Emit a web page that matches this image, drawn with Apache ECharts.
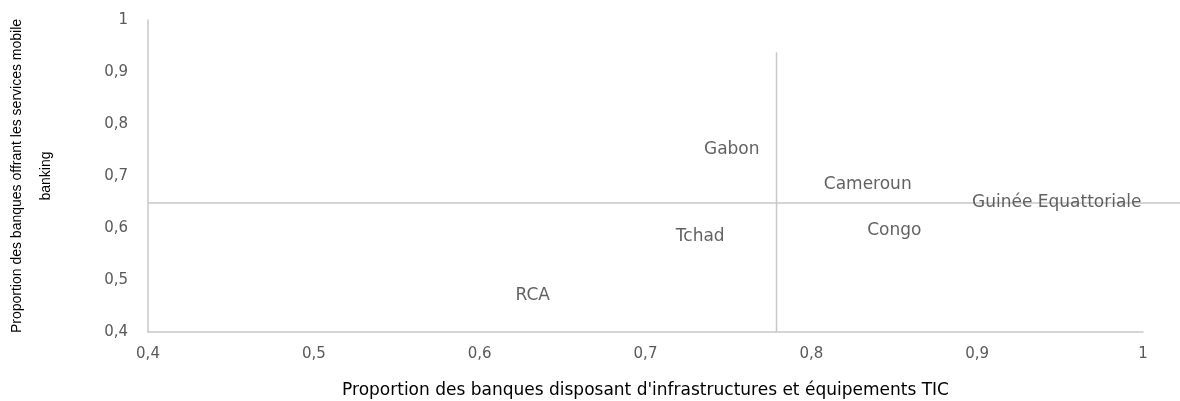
<!DOCTYPE html>
<html>
<head>
<meta charset="utf-8">
<script src="https://cdn.jsdelivr.net/npm/echarts@6/dist/echarts.min.js"></script>
<style>
  html, body { margin: 0; padding: 0; background: #fff; }
  #chart { width: 1180px; height: 401px; }
</style>
</head>
<body>
<div id="chart"></div>
<script>
// pays et coordonnées (infrastructures TIC, mobile banking)
const countries = ['Gabon', 'Cameroun', 'Guinée Equattoriale', 'Congo', 'Tchad', 'RCA']
const ticShare = [0.752, 0.834, 0.948, 0.85, 0.733, 0.632]
const mobileShare = [0.75, 0.683, 0.648, 0.596, 0.583, 0.471]

// lignes de référence (moyennes)
const refX = 0.779
const refXTop = 0.938
const refY = 0.648

const axisMin = 0.4
const axisMax = 1
// la ligne horizontale dépasse l'axe jusqu'au bord droit
const extMax = 1.0223

const chart = echarts.init(document.getElementById('chart'))

const fmt = v => String(Math.round(v * 10) / 10).replace('.', ',')
const refStyle = { color: '#c8c8c8', width: 1.5 }

const option = {
  animation: false,
  grid: [
    { left: 148, right: 37, top: 20, bottom: 69, outerBoundsMode: 'none', containLabel: false },
    { left: 148, right: 0, top: 20, bottom: 69, outerBoundsMode: 'none', containLabel: false }
  ],
  xAxis: [
    {
      type: 'value',
      gridIndex: 0,
      min: axisMin,
      max: axisMax,
      interval: 0.1,
      name: 'Proportion des banques disposant d\'infrastructures et équipements TIC',
      nameLocation: 'middle',
      nameGap: 50,
      nameTextStyle: { fontFamily: 'DejaVu Sans', fontSize: 17, color: '#000' },
      axisLine: { lineStyle: { color: '#c8c8c8', width: 1.5 } },
      axisTick: { show: false },
      splitLine: { show: false },
      axisLabel: { formatter: fmt, color: '#595959', fontSize: 15, margin: 15, fontFamily: 'DejaVu Sans' }
    },
    { type: 'value', gridIndex: 1, min: axisMin, max: extMax, show: false }
  ],
  yAxis: [
    {
      type: 'value',
      gridIndex: 0,
      min: axisMin,
      max: axisMax,
      interval: 0.1,
      name: 'Proportion des banques offrant les services mobile\nbanking',
      nameLocation: 'middle',
      nameGap: 87,
      nameTextStyle: { fontFamily: 'Liberation Sans', fontSize: 14, color: '#000', lineHeight: 29 },
      axisLine: { show: true, lineStyle: { color: '#c8c8c8', width: 1.5 } },
      axisTick: { show: false },
      splitLine: { show: false },
      axisLabel: { formatter: fmt, color: '#595959', fontSize: 15, margin: 20, fontFamily: 'DejaVu Sans' }
    },
    { type: 'value', gridIndex: 1, min: axisMin, max: axisMax, show: false }
  ],
  series: [
    {
      type: 'line',
      xAxisIndex: 0,
      yAxisIndex: 0,
      data: [[refX, axisMin], [refX, refXTop]],
      symbol: 'none',
      lineStyle: refStyle,
      z: 1
    },
    {
      type: 'line',
      xAxisIndex: 1,
      yAxisIndex: 1,
      data: [[axisMin, refY], [extMax, refY]],
      symbol: 'none',
      lineStyle: refStyle,
      z: 1
    },
    {
      type: 'scatter',
      xAxisIndex: 0,
      yAxisIndex: 0,
      symbolSize: 0,
      data: countries.map((c, i) => ({ name: c, value: [ticShare[i], mobileShare[i]] })),
      label: {
        show: true,
        position: 'inside',
        formatter: p => p.name,
        color: '#3a3a3a',
        fontSize: 17,
        fontFamily: 'DejaVu Sans',
        fontWeight: 'normal'
      },
      z: 3
    }
  ]
}

chart.setOption(option)
</script>
</body>
</html>
